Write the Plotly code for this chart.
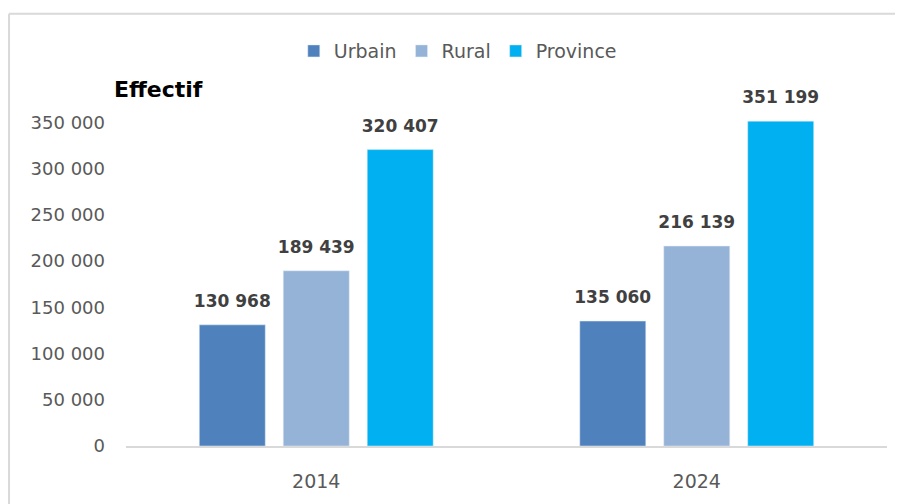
import plotly.graph_objects as go

years = ["2014", "2024"]
series_names = ["Urbain", "Rural", "Province"]
urbain = [130968, 135060]
rural = [189439, 216139]
province = [320407, 351199]
colors = ["#4F81BD", "#95B3D7", "#00B0F0"]
tick_vals = [0, 50000, 100000, 150000, 200000, 250000, 300000, 350000]

FONT = "DejaVu Sans, Verdana, sans-serif"

fig = go.Figure()
for name, vals, col in zip(series_names, [urbain, rural, province], colors):
    fig.add_trace(go.Bar(
        x=years, y=vals, name=name, marker_color=col,
        texttemplate="<span style='font-size:17px'><b>%{y:,d}</b></span><br> ",
        textposition="outside", constraintext="none",
        textfont=dict(family=FONT, size=10, color="#404040"),
        cliponaxis=False,
    ))

# page body has an 8px margin: figure is shrunk by 8px so that it ends at the window edge
fig.update_layout(
    width=895, height=496,
    margin=dict(l=118, r=16, t=105, b=54),
    paper_bgcolor="white", plot_bgcolor="white",
    separators=", ",
    barmode="group", bargap=0.338, bargroupgap=0.214,
    font=dict(family=FONT, size=18, color="#595959"),
    legend=dict(orientation="h", x=0.436, xanchor="center", y=1.186, yanchor="middle",
                font=dict(family=FONT, size=19, color="#595959"),
                itemwidth=30, traceorder="normal"),
    xaxis=dict(showline=True, linecolor="#D9D9D9", linewidth=2, showgrid=False,
               ticks="outside", ticklen=17, tickcolor="rgba(0,0,0,0)",
               tickfont=dict(family=FONT, size=19, color="#595959")),
    yaxis=dict(range=[0, 360000], tickvals=tick_vals, tickformat=",d", showgrid=False,
               showline=False, zeroline=False, ticks="", ticklabelstandoff=20,
               tickfont=dict(family=FONT, size=18, color="#595959")),
    shapes=[
        dict(type="line", xref="paper", yref="paper", x0=-0.1537, x1=1.2, y0=1.298, y1=1.298,
             line=dict(color="#D9D9D9", width=2), layer="below"),
        dict(type="line", xref="paper", yref="paper", x0=-0.1537, x1=-0.1537, y0=-0.4, y1=1.298,
             line=dict(color="#D9D9D9", width=2), layer="below"),
    ],
    annotations=[dict(text="<b>Effectif</b>", xref="paper", yref="paper", x=(158 - 126) / 761,
                      y=(450 - 89) / 337.4, xanchor="center", yanchor="middle", showarrow=False,
                      font=dict(family=FONT, size=22, color="#000000"))],
)

fig.write_html("out.html", config={"displayModeBar": False})
